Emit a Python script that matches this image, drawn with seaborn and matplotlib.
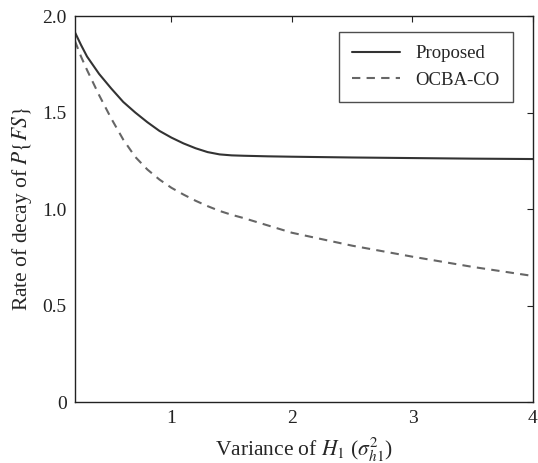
import numpy as np
import pandas as pd
import seaborn as sns
import matplotlib.pyplot as plt

# values
variance = [0.2, 0.25, 0.3, 0.4, 0.5, 0.6, 0.7, 0.8, 0.9, 1.0, 1.1, 1.2, 1.3, 1.4, 1.5,
            1.6, 1.8, 2.0, 2.5, 3.0, 3.5, 4.0]
proposed = [1.915, 1.85, 1.79, 1.70, 1.625, 1.555, 1.50, 1.45, 1.405, 1.37, 1.34, 1.315, 1.295, 1.283, 1.278,
            1.276, 1.273, 1.271, 1.267, 1.264, 1.261, 1.259]
ocba_co = [1.87, 1.79, 1.72, 1.59, 1.47, 1.36, 1.27, 1.205, 1.153, 1.11, 1.075, 1.043, 1.015, 0.99, 0.97,
           0.953, 0.915, 0.877, 0.81, 0.753, 0.70, 0.653]

df = pd.DataFrame({
    "variance": variance * 2,
    "rate": proposed + ocba_co,
    "method": ["Proposed"] * len(variance) + ["OCBA-CO"] * len(variance),
})

sns.set_style("white")
plt.rcParams["font.family"] = ["Liberation Serif", "DejaVu Serif"]
plt.rcParams["mathtext.fontset"] = "stix"
plt.rcParams["xtick.direction"] = "in"
plt.rcParams["ytick.direction"] = "in"

fig = plt.figure(figsize=(5.38, 4.63), dpi=100)
ax = fig.add_axes([0.1394, 0.1317, 0.8513, 0.8337])

sns.lineplot(data=df, x="variance", y="rate", hue="method", style="method",
             palette={"Proposed": "#333333", "OCBA-CO": "#666666"},
             dashes={"Proposed": "", "OCBA-CO": (4, 3)},
             linewidth=1.5, ax=ax)

ax.set_xlim(0.2, 4)
ax.set_ylim(0, 2)
ax.set_xticks([1, 2, 3, 4])
ax.set_yticks([0, 0.5, 1.0, 1.5, 2.0])
ax.set_yticklabels(["0", "0.5", "1.0", "1.5", "2.0"])
ax.tick_params(axis="both", which="both", top=True, right=True, length=4,
               labelsize=14, colors="#222222", width=0.8, pad=6)
for s in ax.spines.values():
    s.set_color("#222222")
    s.set_linewidth(1.0)

ax.set_xlabel(r"Variance of $H_1$ ($\sigma_{h1}^2$)", fontsize=15.5, labelpad=6)
ax.set_ylabel(r"Rate of decay of $P\{FS\}$", fontsize=15.5, labelpad=6)

leg = ax.legend(loc="upper right", bbox_to_anchor=(0.956, 0.958), borderaxespad=0,
                fontsize=13.5, fancybox=False, frameon=True, handlelength=2.6,
                borderpad=0.7, labelspacing=0.5)
leg.get_frame().set_edgecolor("#222222")
leg.get_frame().set_linewidth(1.0)

fig.savefig("out.png", dpi=100)
